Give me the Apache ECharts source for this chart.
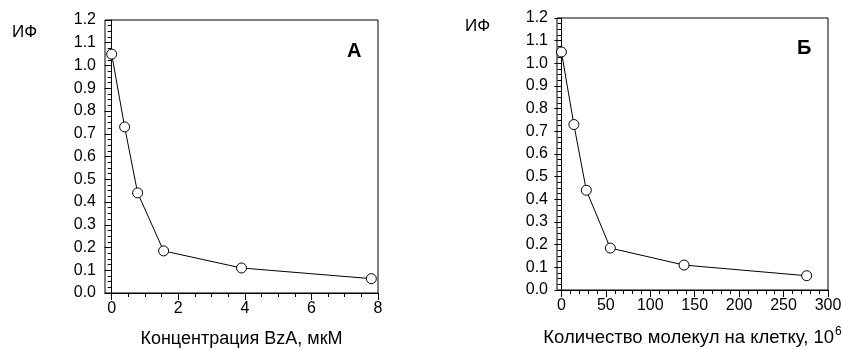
<!DOCTYPE html>
<html>
<head>
<meta charset="utf-8">
<script src="https://cdn.jsdelivr.net/npm/echarts@6/dist/echarts.min.js"></script>
<style>
html,body{margin:0;padding:0;background:#fff;}
#chart{width:843px;height:350px;}
</style>
</head>
<body>
<div id="chart"></div>
<script>
// ---- data ----
const concA = [0, 0.39, 0.78, 1.56, 3.9, 7.8];          // Концентрация BzA, мкМ
const moleculesB = [0, 14, 28, 55, 138, 276];          // Количество молекул на клетку, 10^6
const ifValues = [1.05, 0.73, 0.44, 0.185, 0.11, 0.063]; // ИФ
const xTicksA = [0, 2, 4, 6, 8];
const xMinorA = [0.5, 1, 1.5, 2.5, 3, 3.5, 4.5, 5, 5.5, 6.5, 7, 7.5];
const xTicksB = [0, 50, 100, 150, 200, 250, 300];
const xMinorB = [10, 20, 30, 40, 60, 70, 80, 90, 110, 120, 130, 140, 160, 170, 180, 190, 210, 220, 230, 240, 260, 270, 280, 290];
const yTickLabels = ['0.0','0.1','0.2','0.3','0.4','0.5','0.6','0.7','0.8','0.9','1.0','1.1','1.2'];

const FONT = '"Liberation Sans", Arial, sans-serif';
const chart = echarts.init(document.getElementById('chart'), null, {renderer: 'canvas'});

function pairs(xs, ys) { return xs.map((x, i) => [x, ys[i]]); }

function yAxisDef(gridIndex) {
  return {
    type: 'value', gridIndex: gridIndex, min: 0, max: 1.2, interval: 0.1,
    axisLine: {show: true, lineStyle: {color: '#000', width: 1}},
    axisTick: {show: true, length: 7, lineStyle: {color: '#000', width: 1}},
    minorTick: {show: true, splitNumber: 4, length: 4, lineStyle: {color: '#000', width: 1}},
    splitLine: {show: false}, minorSplitLine: {show: false},
    axisLabel: {color: '#000', fontFamily: FONT, fontSize: 16, margin: 9,
      formatter: function (v) { return yTickLabels[Math.round(v * 10)]; }}
  };
}
function xAxisMain(gridIndex, min, max, ticks, name, gap) {
  return {
    type: 'value', gridIndex: gridIndex, position: 'bottom', min: min, max: max,
    axisLine: {show: true, onZero: false, lineStyle: {color: '#000', width: 1}},
    axisTick: {show: true, length: 7, customValues: ticks, lineStyle: {color: '#000', width: 1}},
    axisLabel: {show: true, customValues: ticks, color: '#000', fontFamily: FONT, fontSize: 16, margin: 8},
    splitLine: {show: false},
    name: name, nameLocation: 'middle', nameGap: gap,
    nameTextStyle: {color: '#000', fontFamily: FONT, fontSize: 18,
      rich: {
        a: {color: '#000', fontFamily: FONT, fontSize: 18.5},
        s: {color: '#000', fontFamily: FONT, fontSize: 12, verticalAlign: 'top', padding: [0, 0, 11, 1]}
      }}
  };
}
function xAxisMinor(gridIndex, min, max, minors) {
  return {
    type: 'value', gridIndex: gridIndex, position: 'bottom', min: min, max: max,
    axisLine: {show: false, onZero: false},
    axisTick: {show: true, length: 4, customValues: minors, lineStyle: {color: '#000', width: 1}},
    axisLabel: {show: false},
    splitLine: {show: false}
  };
}
function lineSeries(xi, yi, xs) {
  return {
    type: 'line', xAxisIndex: xi, yAxisIndex: yi, data: pairs(xs, ifValues),
    symbol: 'circle', symbolSize: 10, showSymbol: true,
    lineStyle: {color: '#000', width: 1},
    itemStyle: {color: '#fff', borderColor: '#000', borderWidth: 1},
    z: 5, animation: false
  };
}

chart.setOption({
  animation: false,
  backgroundColor: '#fff',
  grid: [
    {left: 105, top: 20, width: 273, height: 273, containLabel: false, outerBoundsMode: 'none',
     show: true, borderColor: '#000', borderWidth: 1, backgroundColor: 'transparent'},
    {left: 557, top: 18, width: 271, height: 272, containLabel: false, outerBoundsMode: 'none',
     show: true, borderColor: '#000', borderWidth: 1, backgroundColor: 'transparent'}
  ],
  xAxis: [
    xAxisMain(0, -0.2, 8, xTicksA, 'Концентрация BzA, мкМ', 37),
    xAxisMinor(0, -0.2, 8, xMinorA),
    xAxisMain(1, -5, 300, xTicksB, '{a|Количество молекул на клетку, 10}{s|6}', 36),
    xAxisMinor(1, -5, 300, xMinorB)
  ],
  yAxis: [yAxisDef(0), yAxisDef(1)],
  series: [lineSeries(0, 0, concA), lineSeries(2, 1, moleculesB)],
  graphic: [
    {type: 'text', left: 12, top: 24, style: {text: 'ИФ', fill: '#000', font: '17px ' + FONT}},
    {type: 'text', left: 465, top: 18, style: {text: 'ИФ', fill: '#000', font: '17px ' + FONT}},
    {type: 'text', left: 347, top: 41, style: {text: 'А', fill: '#000', font: 'bold 20px ' + FONT}},
    {type: 'text', left: 797, top: 38, style: {text: 'Б', fill: '#000', font: 'bold 20px ' + FONT}}
  ]
});
</script>
</body>
</html>
